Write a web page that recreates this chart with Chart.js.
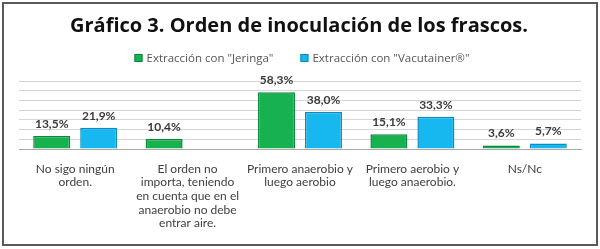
<!DOCTYPE html>
<html>
<head>
<meta charset="utf-8">
<script src="https://cdn.jsdelivr.net/npm/chart.js@4"></script>
<style>
  html, body { margin: 0; padding: 0; background: #fff; }
  #wrap { position: relative; width: 600px; height: 249px; }
  #frame { position: absolute; left: 2px; top: 2px; width: 596px; height: 244px;
           box-sizing: border-box; border: 2px solid #5a5a5a; pointer-events: none; }
</style>
</head>
<body>
<div id="wrap">
  <canvas id="chart" width="600" height="249"></canvas>
  <div id="frame"></div>
</div>
<script>
const categories = [
    ['No sigo ningún', 'orden.'],
    ['El orden no', 'importa, teniendo', 'en cuenta que en el', 'anaerobio no debe', 'entrar aire.'],
    ['Primero anaerobio y', 'luego aerobio'],
    ['Primero aerobio y', 'luego anaerobio.'],
    ['Ns/Nc']
];
const seriesNames = ['Extracción con "Jeringa"', 'Extracción con "Vacutainer®"'];
const jeringa = [13.5, 10.4, 58.3, 15.1, 3.6];
const vacutainer = [21.9, null, 38.0, 33.3, 5.7];
const yMax = 70;
const yStep = 10;

const green = '#18b150', greenEdge = '#0d8639';
const blue = '#17b7f0', blueEdge = '#0b8cbd';
const fontFamily = 'Lato, "Open Sans", sans-serif';
const wideFamily = '"Open Sans", sans-serif';

function pct(v) {
    return v.toFixed(1).replace('.', ',') + '%';
}

// title, legend and value labels drawn by hand
const decorations = {
    id: 'decorations',
    afterDatasetsDraw(chart) {
        const ctx = chart.ctx;
        ctx.save();
        // value labels
        ctx.font = 'bold 12px ' + fontFamily;
        ctx.fillStyle = '#3a3a3a';
        ctx.textAlign = 'center';
        ctx.textBaseline = 'bottom';
        chart.data.datasets.forEach((ds, i) => {
            chart.getDatasetMeta(i).data.forEach((bar, j) => {
                if (ds.data[j] == null) return;
                ctx.fillText(pct(ds.data[j]), bar.x, bar.y - 6);
            });
        });

        // title
        ctx.font = 'bold 20px ' + wideFamily;
        ctx.fillStyle = '#111';
        ctx.textBaseline = 'middle';
        ctx.fillText('Gráfico 3. Orden de inoculación de los frascos.', 299, 26);

        // legend
        ctx.font = '11.5px ' + wideFamily;
        ctx.textAlign = 'left';
        const colors = [[green, greenEdge], [blue, blueEdge]];
        const box = 8, gapBox = 4, gapItem = 27;
        const widths = seriesNames.map(n => box + gapBox + ctx.measureText(n).width);
        let x = 302 - (widths[0] + widths[1] + gapItem) / 2;
        const y = 58;
        seriesNames.forEach((n, i) => {
            ctx.fillStyle = colors[i][0];
            ctx.fillRect(x, y - box / 2, box, box);
            ctx.strokeStyle = colors[i][1];
            ctx.lineWidth = 1;
            ctx.strokeRect(x + 0.5, y - box / 2 + 0.5, box - 1, box - 1);
            ctx.fillStyle = '#555';
            ctx.fillText(n, x + box + gapBox, y + 0.5);
            x += widths[i] + gapItem;
        });
        ctx.restore();
    }
};

new Chart(document.getElementById('chart'), {
    type: 'bar',
    data: {
        labels: categories,
        datasets: [
            {
                label: seriesNames[0],
                data: jeringa,
                backgroundColor: green,
                borderColor: greenEdge,
                borderWidth: 1.5
            },
            {
                label: seriesNames[1],
                data: vacutainer,
                backgroundColor: blue,
                borderColor: blueEdge,
                borderWidth: 1.5
            }
        ]
    },
    options: {
        responsive: false,
        animation: false,
        categoryPercentage: 0.836,
        barPercentage: 0.787,
        layout: {
            padding: { left: 19, right: 19, top: 81, bottom: 0 }
        },
        plugins: {
            legend: { display: false },
            title: { display: false },
            tooltip: { enabled: false }
        },
        scales: {
            x: {
                grid: { display: false, drawTicks: false },
                border: { color: '#a8a8a8' },
                ticks: {
                    color: '#404040',
                    font: { family: fontFamily, size: 12, lineHeight: 1.14 },
                    padding: 13,
                    maxRotation: 0,
                    autoSkip: false
                },
                afterFit(scale) { scale.height = 100; }
            },
            y: {
                min: 0,
                max: yMax,
                ticks: { display: false, stepSize: yStep },
                grid: { color: '#d6d6d6', drawTicks: false },
                border: { display: false },
                afterFit(scale) { scale.width = 0; }
            }
        }
    },
    plugins: [decorations]
});
</script>
</body>
</html>
